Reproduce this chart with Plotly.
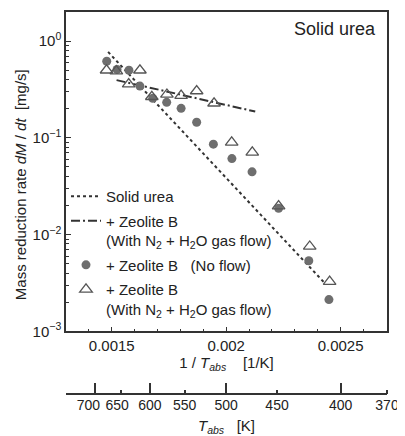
import plotly.graph_objects as go

# ---- data ----
noflow_x = [0.001478, 0.001523, 0.001575, 0.001623, 0.001679, 0.001740, 0.001803,
            0.001871, 0.001944, 0.002025, 0.002113, 0.002229, 0.002361, 0.002449]
noflow_y = [0.62, 0.51, 0.50, 0.343, 0.256, 0.233, 0.202,
            0.145, 0.086, 0.061, 0.0445, 0.0187, 0.00537, 0.00213]

flow_x = [0.001477, 0.001520, 0.001574, 0.001623, 0.001675, 0.001741, 0.001803,
          0.001871, 0.001947, 0.002024, 0.002114, 0.002229, 0.002365, 0.002452]
flow_y = [0.50, 0.49, 0.36, 0.50, 0.266, 0.281, 0.273,
          0.305, 0.228, 0.0897, 0.0708, 0.0197, 0.00754, 0.00327]

urea_fit_x = [0.001484, 0.002434]
urea_fit_y = [0.773, 0.00309]

zeo_fit_x = [0.001521, 0.002127]
zeo_fit_y = [0.395, 0.187]

inv_ticks = [0.0015, 0.002, 0.0025]
inv_ticktext = ["0.0015", "0.002", "0.0025"]
T_labels = [700, 650, 600, 550, 500, 450, 400, 370]
T_ticktext = ["700\u2003", "650\u2002", "600", "550", "500", "450", "400", "370"]
T_major = [700, 600, 500, 400]
y_ticks = [1e-3, 1e-2, 1e-1, 1]
y_ticktext = ["10<sup>\u22123</sup>", "10<sup>\u22122</sup>", "10<sup>\u22121</sup>", "10<sup>0</sup>"]

FONT = "Liberation Sans, Arial, sans-serif"
DARK = "#333333"

fig = go.Figure()

fig.add_trace(go.Scatter(
    x=urea_fit_x, y=urea_fit_y, mode="lines",
    line=dict(color=DARK, width=2, dash="dot"),
    name="Solid urea", legendrank=1, legendgroup="a"))
fig.add_trace(go.Scatter(
    x=zeo_fit_x, y=zeo_fit_y, mode="lines",
    line=dict(color=DARK, width=2, dash="9px,3px,2px,3px"),
    name="+ Zeolite B<br>(With N<sub>2</sub> + H<sub>2</sub>O gas flow)", legendrank=2,
    legendgroup="b"))
fig.add_trace(go.Scatter(
    x=noflow_x, y=noflow_y, mode="markers",
    marker=dict(symbol="circle", size=9, color="#6e6e6e"),
    name="+ Zeolite B\u00a0\u00a0\u00a0(No flow)", legendrank=3, legendgroup="c"))
fig.add_trace(go.Scatter(
    x=flow_x, y=flow_y, mode="markers",
    marker=dict(symbol="triangle-up-open", size=11, color="#555555", line=dict(width=1.3)),
    name="+ Zeolite B<br>(With N<sub>2</sub> + H<sub>2</sub>O gas flow)", legendrank=4,
    legendgroup="d"))

# secondary temperature axes on a flat strip subplot (dummy traces activate them)
T_vals = [1.0 / t for t in T_labels]
for ax in ["x2", "x3", "x4"]:
    fig.add_trace(go.Scatter(x=T_vals, y=[None] * len(T_vals), xaxis=ax, yaxis="y2",
                             showlegend=False, hoverinfo="skip"))

xr = [0.0013, 1.0 / 370]
paper_bottom = 387.0
paper_h = paper_bottom - 2
ydom_bottom = (paper_bottom - 323) / paper_h

fig.update_layout(
    width=397, height=428,
    margin=dict(l=58, r=18, t=2, b=428 - paper_bottom),
    paper_bgcolor="white", plot_bgcolor="white",
    font=dict(family=FONT, size=15, color="#222222"),
    showlegend=True,
    legend=dict(x=0.0, y=1 - (171 - 2) / paper_h, xanchor="left", yanchor="top",
                bgcolor="rgba(0,0,0,0)", valign="top",
                font=dict(size=15), traceorder="grouped", tracegroupgap=2, itemwidth=30),
    xaxis=dict(range=xr, domain=[0, 1], showline=True, linecolor=DARK, linewidth=1.5,
               mirror=True, ticks="inside", ticklen=5, tickcolor=DARK,
               tickvals=inv_ticks, ticktext=inv_ticktext,
               minor=dict(ticks="inside", ticklen=3, dtick=0.0001, tick0=0.0013, tickcolor=DARK),
               showgrid=False, zeroline=False, ticklabelstandoff=0,
               title=dict(text="1 / <i>T</i><sub><i>abs</i></sub>\u00a0\u00a0\u00a0\u00a0[1/K]",
                          standoff=4, font=dict(size=15))),
    yaxis=dict(type="log", range=[-3, 0.301], domain=[ydom_bottom, 1],
               showline=True, linecolor=DARK, linewidth=1.5, mirror=True,
               ticks="inside", ticklen=5, tickcolor=DARK,
               tickvals=y_ticks, ticktext=y_ticktext,
               minor=dict(ticks="inside", ticklen=3, tickcolor=DARK, dtick="D1"),
               showgrid=False, zeroline=False),
    yaxis2=dict(domain=[0, 0.001], range=[0, 1], visible=False),
    xaxis2=dict(range=xr, domain=[0, 1], anchor="y2", side="bottom",
                showline=False, ticks="", tickangle=0, tickfont=dict(size=14),
                tickvals=T_vals, ticktext=T_ticktext,
                showgrid=False, zeroline=False, ticklabelstandoff=0,
                title=dict(text="<i>T</i><sub><i>abs</i></sub>\u00a0\u00a0\u00a0[K]",
                           standoff=8, font=dict(size=15))),
    xaxis3=dict(range=xr, domain=[0, 1], anchor="y2", side="top", overlaying="x2",
                showline=True, linecolor=DARK, linewidth=1.5,
                ticks="outside", ticklen=10, tickwidth=1.5, tickcolor=DARK,
                tickvals=[1.0 / t for t in T_major], showticklabels=False,
                showgrid=False, zeroline=False),
    xaxis4=dict(range=xr, domain=[0, 1], anchor="y2", side="top", overlaying="x2",
                showline=False, ticks="outside", ticklen=4, tickwidth=1.5, tickcolor=DARK,
                tickvals=T_vals, showticklabels=False,
                showgrid=False, zeroline=False),
)

fig.add_annotation(text="Solid urea", xref="paper", yref="paper",
                   x=0.972, y=1 - (19 - 2) / paper_h, xanchor="right", yanchor="middle",
                   showarrow=False, font=dict(size=18, family=FONT, color="#222222"))
fig.add_annotation(text="Mass reduction rate <i>dM</i> / <i>dt</i>\u00a0\u00a0[mg/s]",
                   xref="paper", yref="paper", x=-0.143, y=1 - (176 - 2) / paper_h,
                   xanchor="center", yanchor="middle", textangle=-90,
                   showarrow=False, font=dict(size=15, family=FONT, color="#222222"))

fig.write_html("out.html")
